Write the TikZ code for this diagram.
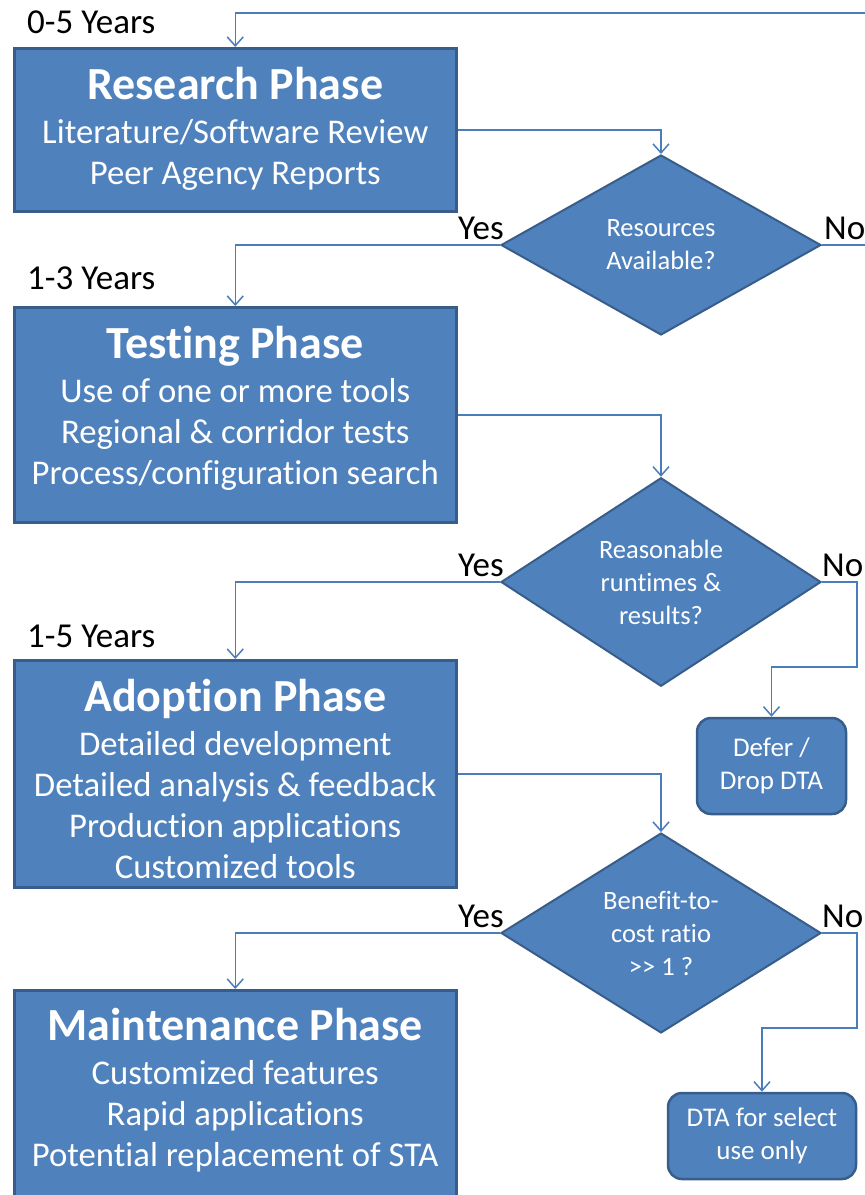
\documentclass[tikz,border=0pt]{standalone}
\usepackage{fontspec}
\setmainfont[Ligatures=NoCommon]{Carlito}
\usetikzlibrary{arrows.meta,shapes.geometric,positioning}
\definecolor{boxblue}{HTML}{4F81BD}
\definecolor{boxline}{HTML}{385D8A}
\definecolor{linkblue}{HTML}{4A7EBB}
\newcommand{\phasetitle}{\fontsize{46}{52}\selectfont\bfseries}

\begin{document}
\begin{tikzpicture}[x=1pt,y=-1pt,>={Straight Barb[length=9pt,width=16pt]}]
  \tikzstyle{phase}=[draw=boxline,fill=boxblue,line width=2.5pt,minimum width=442pt,inner sep=0pt,anchor=north west]
  \tikzstyle{phasetext}=[text=white,align=center,inner sep=0pt,font=\fontsize{34.7}{41}\selectfont]
  \tikzstyle{decision}=[diamond,draw=boxline,fill=boxblue,line width=2pt,minimum width=320pt,minimum height=180pt,inner sep=0pt,text=white,align=center,font=\fontsize{26.5}{33}\selectfont]
  \tikzstyle{outcome}=[rectangle,rounded corners=14pt,draw=boxline,fill=boxblue,line width=2.5pt,text=white,align=center,font=\fontsize{27}{33}\selectfont]
  \tikzstyle{answer}=[inner sep=0pt,font=\fontsize{35}{40}\selectfont]
  \tikzstyle{link}=[draw=linkblue,line width=1.5pt]

  \useasboundingbox (0,0) rectangle (865,1195);

  % phases
  \node[phase,minimum height=163pt] (rsch) at (13,47) {};
  \node[phasetext,below=20pt of rsch.north] (rschtxt) {{\phasetitle Research Phase}\\[3pt]Literature/Software Review\\Peer Agency Reports};
  \node[phase,minimum height=215pt] (test) at (13,306) {};
  \node[phasetext,below=20pt of test.north] (testtxt) {{\phasetitle Testing Phase}\\[3pt]Use of one or more tools\\Regional \& corridor tests\\Process/configuration search};
  \node[phase,minimum height=227pt] (adop) at (13,659) {};
  \node[phasetext,below=20pt of adop.north] (adoptxt) {{\phasetitle Adoption Phase}\\[3pt]Detailed development\\Detailed analysis \& feedback\\Production applications\\Customized tools};
  \node[phase,minimum height=240pt] (mnt) at (13,989) {};
  \node[phasetext,below=19pt of mnt.north] (mnttxt) {{\phasetitle Maintenance Phase}\\[3pt]Customized features\\Rapid applications\\Potential replacement of STA};

  % years
  \node[answer,anchor=base west] (yr1) at (27,33) {0-5 Years};
  \node[answer,anchor=base west] (yr2) at (27,289) {1-3 Years};
  \node[answer,anchor=base west] (yr3) at (27,647) {1-5 Years};

  % decisions
  \node[decision] (res) at (661,245) {Resources\\Available?};
  \node[decision] (run) at (661,582) {Reasonable\\runtimes \&\\results?};
  \node[decision] (bcr) at (661,933) {Benefit-to-\\cost ratio\\{>}{>} 1 ?};

  % outcomes
  \node[outcome,minimum width=149pt,minimum height=96pt] (defer) at (771.5,766) {Defer /\\Drop DTA};
  \node[outcome,minimum width=188pt,minimum height=86pt] (sel) at (762,1136) {DTA for select\\use only};

  % yes / no
  \node[answer,anchor=base east] (yes1) at ([xshift=4pt,yshift=6pt]res.west) {Yes};
  \node[answer,anchor=base west] (no1) at ([xshift=2pt,yshift=6pt]res.east) {No};
  \node[answer,anchor=base east] (yes2) at ([xshift=4pt,yshift=6pt]run.west) {Yes};
  \node[answer,anchor=base west] (no2) at ([yshift=6pt]run.east) {No};
  \node[answer,anchor=base east] (yes3) at ([xshift=4pt,yshift=6pt]bcr.west) {Yes};
  \node[answer,anchor=base west] (no3) at ([yshift=6pt]bcr.east) {No};

  \coordinate (back) at (865,13);
  \coordinate (drop) at (865,245);

  \path[link,->] (back) -| (rsch.north);
  \path[link,->] (rsch.east) -| (res.north);
  \path[link,->] (res.west) -| (test.north);
  \path[link] (res.east) -- (drop);
  \path[link,->] (test.east) -| (run.north);
  \path[link,->] (run.west) -| (adop.north);
  \path[link,->] (run.east) -- ++(35,0) -- ++(0,85) -| (defer.north);
  \path[link,->] (adop.east) -| (bcr.north);
  \path[link,->] (bcr.west) -| (mnt.north);
  \path[link,->] (bcr.east) -- ++(35,0) -- ++(0,95) -| (sel.north);
\end{tikzpicture}
\end{document}
